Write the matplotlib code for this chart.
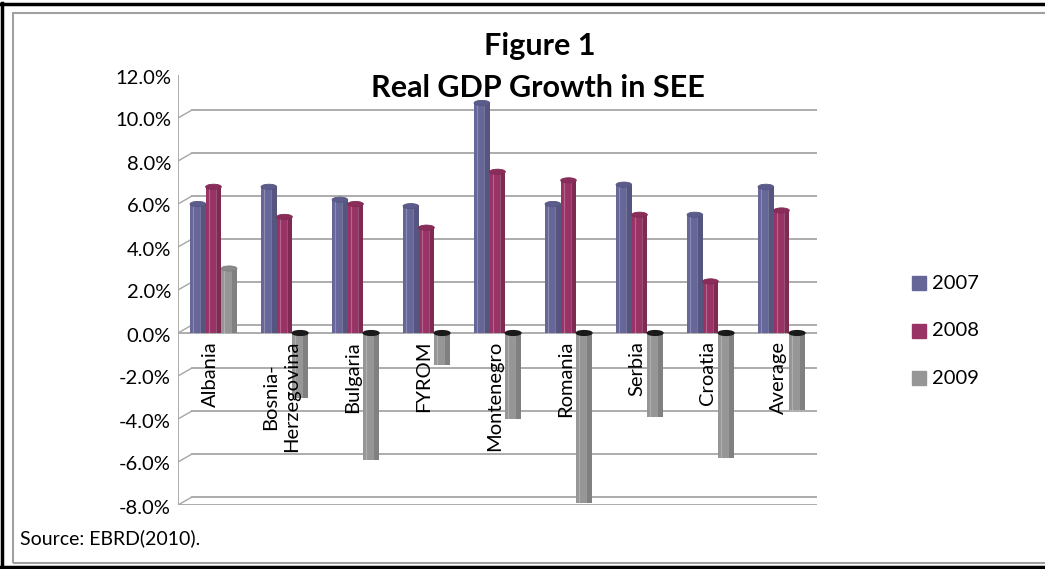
import matplotlib
matplotlib.use("Agg")
import matplotlib.pyplot as plt
import matplotlib.transforms as mtransforms
from matplotlib.lines import Line2D
from matplotlib.patches import Rectangle, Ellipse
import numpy as np

# data (real GDP growth, %)
countries = ["Albania", "Bosnia-\nHerzegovina", "Bulgaria", "FYROM", "Montenegro",
             "Romania", "Serbia", "Croatia", "Average"]
years = ["2007", "2008", "2009"]
growth_2007 = [6.0, 6.8, 6.2, 5.9, 10.7, 6.0, 6.9, 5.5, 6.8]
growth_2008 = [6.8, 5.4, 6.0, 4.9, 7.5, 7.1, 5.5, 2.4, 5.7]
growth_2009 = [3.0, -3.0, -5.9, -1.5, -4.0, -7.9, -3.9, -5.8, -3.6]
yticks = np.arange(-8, 13, 2)

colors = ["#666699", "#993366", "#969696"]
side_colors = ["#55557f", "#7e2a53", "#808080"]
cap_colors = ["#5c5c8c", "#8a2d5a", "#8a8a8a"]
grid_c = "#a6a6a6"

plt.rcParams["font.family"] = ["Lato", "DejaVu Sans"]

W, H = 1045, 569
fig = plt.figure(figsize=(W / 100, H / 100), dpi=100)
ax = fig.add_axes([178 / W, 64 / H, 639 / W, 430 / H])
ax.set_xlim(-0.5, 8.5)
ax.set_ylim(-8, 12)
ax.axis("off")

DX, DY = 14, 8  # 3-D depth offset in pixels
back = mtransforms.offset_copy(ax.transData, fig=fig, x=DX, y=DY, units="dots")
ident = mtransforms.IdentityTransform()


def seg(x, y):
    p = ax.transData.transform((x, y))
    return [p[0], p[0] + DX], [p[1], p[1] + DY]


# back-wall gridlines and left diagonals
for y in yticks:
    ax.plot([-0.5, 8.5], [y, y], color=grid_c, lw=1.3, transform=back, zorder=1)
    xs, ys = seg(-0.5, y)
    ax.add_line(Line2D(xs, ys, color=grid_c, lw=1.0, transform=ident, zorder=1))

# floor slab at -8 and category axis at 0
for y in (0, -8):
    ax.plot([-0.5, 8.5], [y, y], color=grid_c, lw=1.3, zorder=1)
    xs, ys = seg(8.5, y)
    ax.add_line(Line2D(xs, ys, color=grid_c, lw=1.0, transform=ident, zorder=1))

# vertical axis
ax.plot([-0.5, -0.5], [-8, 12], color=grid_c, lw=1.3, zorder=1)

# bars
series = [growth_2007, growth_2008, growth_2009]
bw = 0.22
for k, vals in enumerate(series):
    for i, v in enumerate(vals):
        x = i + (k - 1) * bw
        ax.bar(x, v, width=bw, color=colors[k], zorder=3, clip_on=False)
        ax.bar(x + bw * 0.32, v, width=bw * 0.36, color=side_colors[k], zorder=3,
               clip_on=False)
        ax.plot([x - bw * 0.3, x - bw * 0.3], [0, v], color="white", alpha=0.25,
                lw=0.8, zorder=4)
        ax.plot([x + bw * 0.14, x + bw * 0.14], [0, v], color="white", alpha=0.2,
                lw=0.7, zorder=4)
        top = max(v, 0)
        if v > 0:
            ax.add_patch(Ellipse((x, top), bw, 0.24, fc=cap_colors[k],
                                 ec=side_colors[k], lw=0.6, zorder=5, clip_on=False))
        else:
            ax.add_patch(Ellipse((x, top), bw, 0.22, color="#1a1a1a", zorder=5,
                                 clip_on=False))

# y tick labels
lab_tr = mtransforms.offset_copy(ax.transData, fig=fig, x=-7, y=-3, units="dots")
for y in yticks:
    ax.text(-0.5, y, f"{y:.1f}%", transform=lab_tr, ha="right", va="center",
            fontsize=14.5, color="black")

# category labels
cat_tr = mtransforms.offset_copy(ax.transData, fig=fig, x=-3, y=-8, units="dots")
for i, name in enumerate(countries):
    ax.text(i, 0, name, transform=cat_tr, rotation=90, ha="center", va="top",
            multialignment="center", fontsize=14.5, color="black", zorder=6,
            linespacing=1.3)

# title
fig.text(540 / W, 1 - 46 / H, "Figure 1", ha="center", va="center",
         fontsize=22, fontweight="bold")
fig.text(538 / W, 1 - 88 / H, "Real GDP Growth in SEE", ha="center", va="center",
         fontsize=22, fontweight="bold")

# legend
for k, yr in enumerate(years):
    yc = 283 + k * 47.5
    fig.add_artist(Rectangle((912 / W, 1 - (yc + 7) / H), 14 / W, 14 / H,
                             transform=fig.transFigure, color=colors[k]))
    fig.text(932 / W, 1 - yc / H, yr, ha="left", va="center", fontsize=14.5,
             color="black")

# source note
fig.text(20 / W, 1 - 538 / H, "Source: EBRD(2010).", ha="left", va="center",
         fontsize=14, color="black")

# frames
fig.add_artist(Rectangle((13 / W, 6 / H), 1.2, 550 / H, transform=fig.transFigure,
                         fill=False, ec="#a0a0a0", lw=1.5))
fig.add_artist(Line2D([1.5 / W, 1.5 / W], [0, 1 - 3 / H], transform=fig.transFigure,
                      color="black", lw=2.5))
fig.add_artist(Line2D([0, 1], [1 - 4 / H, 1 - 4 / H], transform=fig.transFigure,
                      color="black", lw=2.5))
fig.add_artist(Line2D([0, 1], [2 / H, 2 / H], transform=fig.transFigure,
                      color="black", lw=2.5))

fig.savefig("out.png", dpi=100)
